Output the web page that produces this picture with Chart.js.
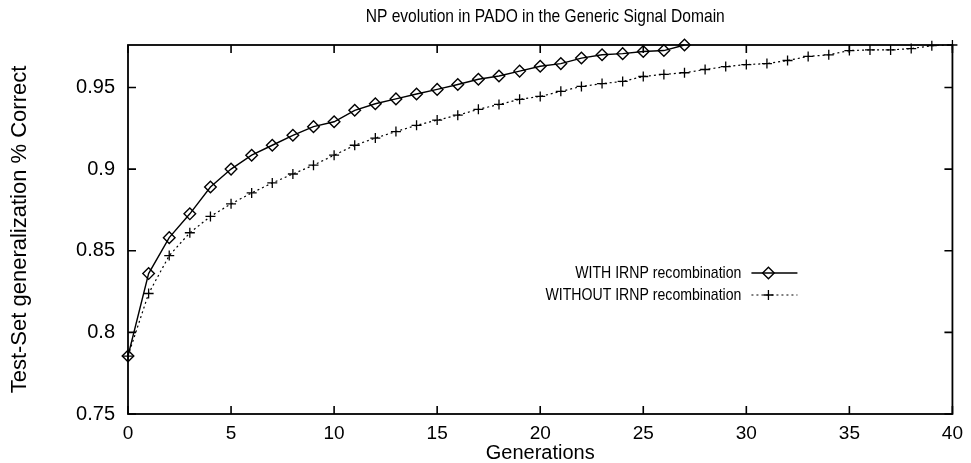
<!DOCTYPE html>
<html>
<head>
<meta charset="utf-8">
<script src="https://cdn.jsdelivr.net/npm/chart.js@4/dist/chart.umd.min.js"></script>
<style>
html, body { margin: 0; padding: 0; background: #fff; }
</style>
</head>
<body>
<canvas id="npChart" width="971" height="463"></canvas>
<script>
const generations = [0, 1, 2, 3, 4, 5, 6, 7, 8, 9, 10, 11, 12, 13, 14, 15, 16, 17, 18, 19, 20,
    21, 22, 23, 24, 25, 26, 27, 28, 29, 30, 31, 32, 33, 34, 35, 36, 37, 38, 39, 40]

const withIrnp = [0.7855, 0.836, 0.858, 0.8726, 0.889, 0.900, 0.9085, 0.9146, 0.9207, 0.926,
    0.929, 0.936, 0.940, 0.943, 0.946, 0.9488, 0.9518, 0.955, 0.957, 0.960,
    0.963, 0.9646, 0.968, 0.970, 0.9707, 0.972, 0.9726, 0.976]

const withoutIrnp = [0.7855, 0.8238, 0.847, 0.861, 0.871, 0.8787, 0.8854, 0.8915, 0.897, 0.9024,
    0.9085, 0.9146, 0.919, 0.923, 0.9268, 0.930, 0.933, 0.9366, 0.9396, 0.9427,
    0.9445, 0.9476, 0.9506, 0.9524, 0.9537, 0.9567, 0.958, 0.959, 0.961, 0.9628,
    0.964, 0.9646, 0.9665, 0.969, 0.970, 0.9726, 0.973, 0.973, 0.9738, 0.9756, 0.976]

const chartTitle = 'NP evolution in PADO in the Generic Signal Domain'
const seriesLabels = ['WITH IRNP recombination', 'WITHOUT IRNP recombination']
const xTicks = [0, 5, 10, 15, 20, 25, 30, 35, 40]
const yTicks = [0.75, 0.8, 0.85, 0.9, 0.95]

const FONT = 'Liberation Sans'

const toPoints = (vals) => vals.map((v, i) => ({ x: generations[i], y: v }))

// the title and key in the scan are a narrow helvetica, squeeze the text a bit
function narrowText(ctx, text, x, y, align, squeeze) {
    ctx.save()
    ctx.translate(x, y)
    ctx.scale(squeeze, 1)
    ctx.textAlign = align
    ctx.textBaseline = 'middle'
    ctx.fillText(text, 0, 0)
    ctx.restore()
}

// box around the plot, inward ticks on all 4 sides, title and gnuplot-like key
const gnuplotFrame = {
    id: 'gnuplotFrame',
    afterDatasetsDraw(chart) {
        const ctx = chart.ctx
        const area = chart.chartArea
        const xs = chart.scales.x
        const ys = chart.scales.y
        const tl = 8

        ctx.save()
        ctx.strokeStyle = '#000'
        ctx.fillStyle = '#000'
        ctx.lineWidth = 1.8
        ctx.strokeRect(area.left, area.top, area.right - area.left, area.bottom - area.top)

        ctx.lineWidth = 1.6
        ctx.beginPath()
        xTicks.forEach(v => {
            const px = xs.getPixelForValue(v)
            ctx.moveTo(px, area.bottom)
            ctx.lineTo(px, area.bottom - tl)
            ctx.moveTo(px, area.top)
            ctx.lineTo(px, area.top + tl)
        })
        yTicks.forEach(v => {
            const py = ys.getPixelForValue(v)
            ctx.moveTo(area.left, py)
            ctx.lineTo(area.left + tl, py)
            ctx.moveTo(area.right, py)
            ctx.lineTo(area.right - tl, py)
        })
        ctx.stroke()

        // title, centred over the plot
        ctx.font = '19px "' + FONT + '"'
        narrowText(ctx, chartTitle, (area.left + area.right) / 2 + 5, 17, 'center', 0.82)

        // key
        const textRight = area.right - 211
        const sampleLeft = area.right - 201
        const sampleRight = area.right - 155
        ctx.font = '17px "' + FONT + '"'
        chart.data.datasets.forEach((ds, i) => {
            const y = area.top + 228 + i * 22
            ctx.fillStyle = '#000'
            narrowText(ctx, ds.label, textRight, y, 'right', 0.83)
            ctx.save()
            ctx.lineWidth = ds.borderWidth
            ctx.setLineDash(ds.borderDash || [])
            ctx.beginPath()
            ctx.moveTo(sampleLeft, y)
            ctx.lineTo(sampleRight, y)
            ctx.stroke()
            ctx.setLineDash([])
            ctx.lineWidth = ds.pointBorderWidth
            ctx.fillStyle = 'rgba(0,0,0,0)'
            Chart.helpers.drawPoint(ctx, {
                pointStyle: ds.pointStyle,
                radius: ds.pointRadius,
                borderWidth: ds.pointBorderWidth,
                rotation: 0
            }, (sampleLeft + sampleRight) / 2 - 6, y)
            ctx.restore()
        })
        ctx.restore()
    }
}

new Chart(document.querySelector('#npChart'), {
    type: 'line',
    data: {
        datasets: [
            {
                label: seriesLabels[0],
                data: toPoints(withIrnp),
                borderColor: '#000',
                borderWidth: 1.4,
                pointStyle: 'rectRot',
                pointRadius: 5.8,
                pointBorderWidth: 1.4,
                pointBorderColor: '#000',
                pointBackgroundColor: 'rgba(0,0,0,0)',
                tension: 0,
                clip: false
            },
            {
                label: seriesLabels[1],
                data: toPoints(withoutIrnp),
                borderColor: '#000',
                borderWidth: 1.2,
                borderDash: [2, 3],
                pointStyle: 'cross',
                pointRadius: 5,
                pointBorderWidth: 1.3,
                pointBorderColor: '#000',
                pointBackgroundColor: 'rgba(0,0,0,0)',
                tension: 0,
                clip: false
            }
        ]
    },
    options: {
        responsive: false,
        animation: false,
        layout: {
            padding: { left: 6, right: 15, top: 45, bottom: 0 }
        },
        plugins: {
            legend: { display: false },
            tooltip: { enabled: false },
            title: { display: false }
        },
        scales: {
            x: {
                type: 'linear',
                min: 0,
                max: 40,
                afterBuildTicks: (scale) => { scale.ticks = xTicks.map(v => ({ value: v })) },
                afterFit: (scale) => { scale.height = 49 },
                grid: { display: false, drawTicks: false },
                border: { display: false },
                ticks: {
                    color: '#000',
                    padding: 8,
                    maxRotation: 0,
                    font: { family: FONT, size: 19 }
                },
                title: {
                    display: true,
                    text: 'Generations',
                    color: '#000',
                    padding: { top: 0, bottom: 0 },
                    font: { family: FONT, size: 20, lineHeight: 1.0 }
                }
            },
            y: {
                min: 0.75,
                max: 0.976,
                afterBuildTicks: (scale) => { scale.ticks = yTicks.map(v => ({ value: v })) },
                afterFit: (scale) => { scale.width = 122 },
                grid: { display: false, drawTicks: false },
                border: { display: false },
                ticks: {
                    color: '#000',
                    padding: 13,
                    font: { family: FONT, size: 20 },
                    callback: (v) => String(v)
                },
                title: {
                    display: true,
                    text: 'Test-Set generalization % Correct',
                    color: '#000',
                    padding: { top: 1, bottom: 0 },
                    font: { family: FONT, size: 22 }
                }
            }
        }
    },
    plugins: [gnuplotFrame]
})
</script>
</body>
</html>
